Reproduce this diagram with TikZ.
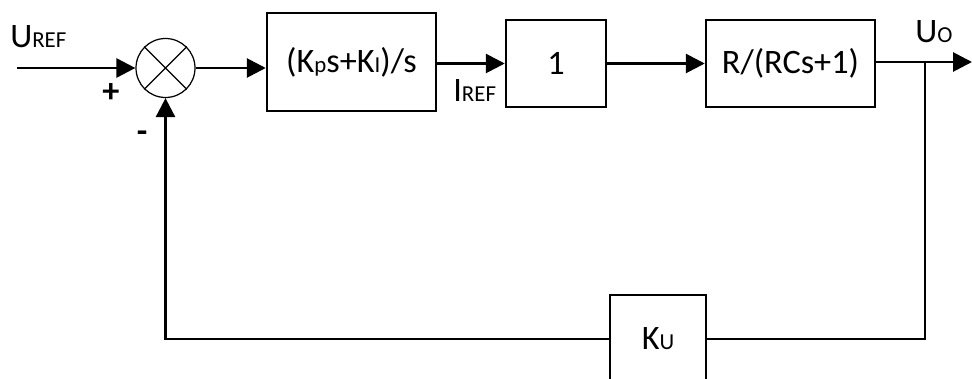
\documentclass[tikz,border=0pt]{standalone}
\usepackage{fontspec}
\setmainfont{Carlito}
\usetikzlibrary{arrows.meta}

\newcommand{\lo}[1]{{\fontsize{13}{14}\selectfont #1}}

\tikzset{
  block/.style={draw, line width=1.4pt, inner sep=0pt,
    font=\fontsize{19.5}{22}\selectfont},
  sig/.style={line width=1.6pt, -{Triangle[length=0.38cm, width=0.38cm]}},
  wire/.style={line width=1.6pt},
  lbl/.style={inner sep=0pt, font=\fontsize{19.5}{22}\selectfont}
}

\begin{document}
\begin{tikzpicture}
      \clip (0,0) rectangle (19.44,7.56);
      % summing junction and forward path
      \node[draw, circle, line width=0.7pt, minimum size=1.18cm, inner sep=0pt] (sum) at (3.31,6.2) {};
      \draw[line width=0.7pt] (sum.north east) -- (sum.south west)
                              (sum.north west) -- (sum.south east);
      \draw
        (7.03,6.32) node[block, minimum width=3.38cm, minimum height=1.96cm] (pi){(K\lo{p}s+K\lo{I})/s}
        (11.12,6.29) node[block, minimum width=2.0cm, minimum height=1.74cm] (gain){1}
        (15.81,6.29) node[block, minimum width=3.38cm, minimum height=1.74cm] (plant){R/(RCs+1)}
        (13.16,0.78) node[block, minimum width=1.92cm, minimum height=1.76cm] (ku){K\lo{U}};
      \coordinate (in) at (0.34,6.2);
      \coordinate (branch) at (18.5,6.32);
      \coordinate (out) at (19.44,6.32);
      % signal labels
      \node[lbl, anchor=base west] (uref) at (0.2,6.6) {U\lo{REF}};
      \node[lbl, anchor=base west] (iref) at (9.06,5.52) {I\lo{REF}};
      \node[lbl, anchor=base west] (uo) at (18.3,6.7) {U\lo{O}};
      \node[lbl] (plus) at (2.22,5.7) {\textbf{+}};
      \node[lbl] (minus) at (2.84,4.82) {\textbf{-}};
      \begin{scope}[sig]
        \draw (in) -- (sum.west);
        \draw (sum.east) -- (sum.east -| pi.west);
        \draw (pi.east |- gain.west) -- (gain.west);
        \draw (gain.east) -- (gain.east -| plant.west);
        \draw (plant.east |- out) -- (out);
        \draw (ku.west) -| (sum.south);
      \end{scope}
      \draw[wire] (branch) |- (ku.east);
    \end{tikzpicture}
\end{document}
